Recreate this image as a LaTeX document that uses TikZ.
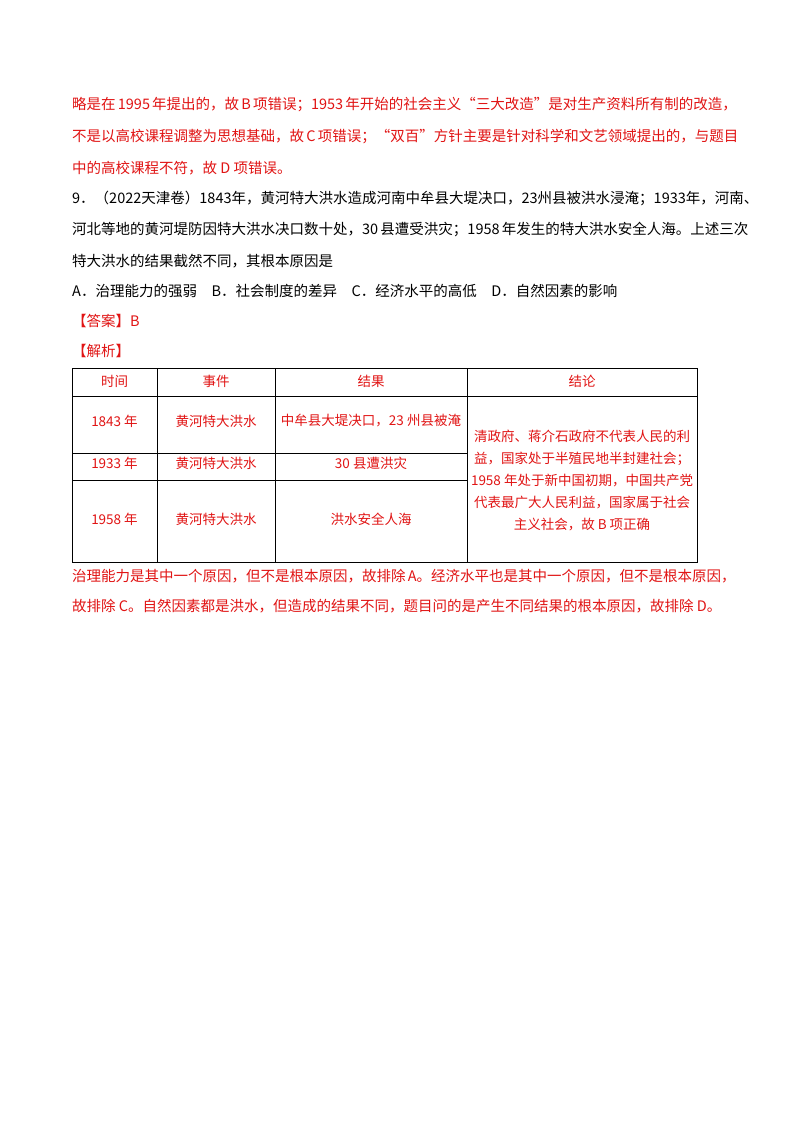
\documentclass[tikz,border=0pt]{standalone}
\usepackage{fontspec}
\setmainfont{Noto Sans CJK SC}
\definecolor{ans}{RGB}{225,20,20}
\newcommand{\fulline}[1]{\parbox{656pt}{\parfillskip=0pt\parindent=0pt\XeTeXinterchartokenstate=0 #1}}
\begin{document}
\begin{tikzpicture}[x=1pt,y=-1pt,
  ln/.style={anchor=west,inner sep=0pt,font=\fontsize{14.5}{16}\selectfont},
  red/.style={text=ans},
  cell/.style={inner sep=0pt,text=ans,font=\fontsize{13.5}{15}\selectfont}]
\useasboundingbox[fill=white] (0,0) rectangle (800,1132);
\node[ln,red] (l1) at (72,105) {\fulline{略是在 1995 年提出的，故 B 项错误；1953 年开始的社会主义“三大改造”是对生产资料所有制的改造，}};
\node[ln,red] (l2) at (72,137) {\fulline{不是以高校课程调整为思想基础，故 C 项错误；“双百”方针主要是针对科学和文艺领域提出的，与题目}};
\node[ln,red] (l3) at (72,168) {中的高校课程不符，故 D 项错误。};
\node[ln] (q1) at (72,198) {9．（2022天津卷）1843年，黄河特大洪水造成河南中牟县大堤决口，23州县被洪水浸淹；1933年，河南、};
\node[ln] (q2) at (72,229) {\fulline{河北等地的黄河堤防因特大洪水决口数十处，30 县遭受洪灾；1958 年发生的特大洪水安全人海。上述三次}};
\node[ln] (q3) at (72,261) {特大洪水的结果截然不同，其根本原因是};
\node[ln] (q4) at (72,291) {A．治理能力的强弱\quad B．社会制度的差异\quad C．经济水平的高低\quad D．自然因素的影响};
\node[ln,red] (a1) at (72,321) {【答案】B};
\node[ln,red] (a2) at (72,351) {【解析】};
% table
\draw[line width=0.8pt] (72,368) rectangle (697,562);
\draw[line width=0.8pt] (72,396) -- (697,396);
\draw[line width=0.8pt] (72,453) -- (467,453);
\draw[line width=0.8pt] (72,480) -- (467,480);
\foreach \x in {157,275,467} \draw[line width=0.8pt] (\x,368) -- (\x,562);
\node[cell] (h1) at (114.5,381) {时间};
\node[cell] (h2) at (216,381) {事件};
\node[cell] (h3) at (371,381) {结果};
\node[cell] (h4) at (582,381) {结论};
\node[cell] (c11) at (114.5,421) {1843 年};
\node[cell] (c12) at (216,421) {黄河特大洪水};
\node[cell] (c13) at (371,421) {中牟县大堤决口，23 州县被淹};
\node[cell] (c21) at (114.5,463) {1933 年};
\node[cell] (c22) at (216,463) {黄河特大洪水};
\node[cell] (c23) at (371,463) {30 县遭洪灾};
\node[cell] (c31) at (114.5,519) {1958 年};
\node[cell] (c32) at (216,519) {黄河特大洪水};
\node[cell] (c33) at (371,519) {洪水安全人海};
\node[cell,align=center,font=\fontsize{13.5}{22}\selectfont] (c4) at (582,480) {清政府、蒋介石政府不代表人民的利\\益，国家处于半殖民地半封建社会；\\1958 年处于新中国初期，中国共产党\\代表最广大人民利益，国家属于社会\\主义社会，故 B 项正确};
\node[ln,red] (b1) at (72,576) {\fulline{治理能力是其中一个原因，但不是根本原因，故排除 A。经济水平也是其中一个原因，但不是根本原因，}};
\node[ln,red] (b2) at (72,606) {故排除 C。自然因素都是洪水，但造成的结果不同，题目问的是产生不同结果的根本原因，故排除 D。};
\end{tikzpicture}
\end{document}
